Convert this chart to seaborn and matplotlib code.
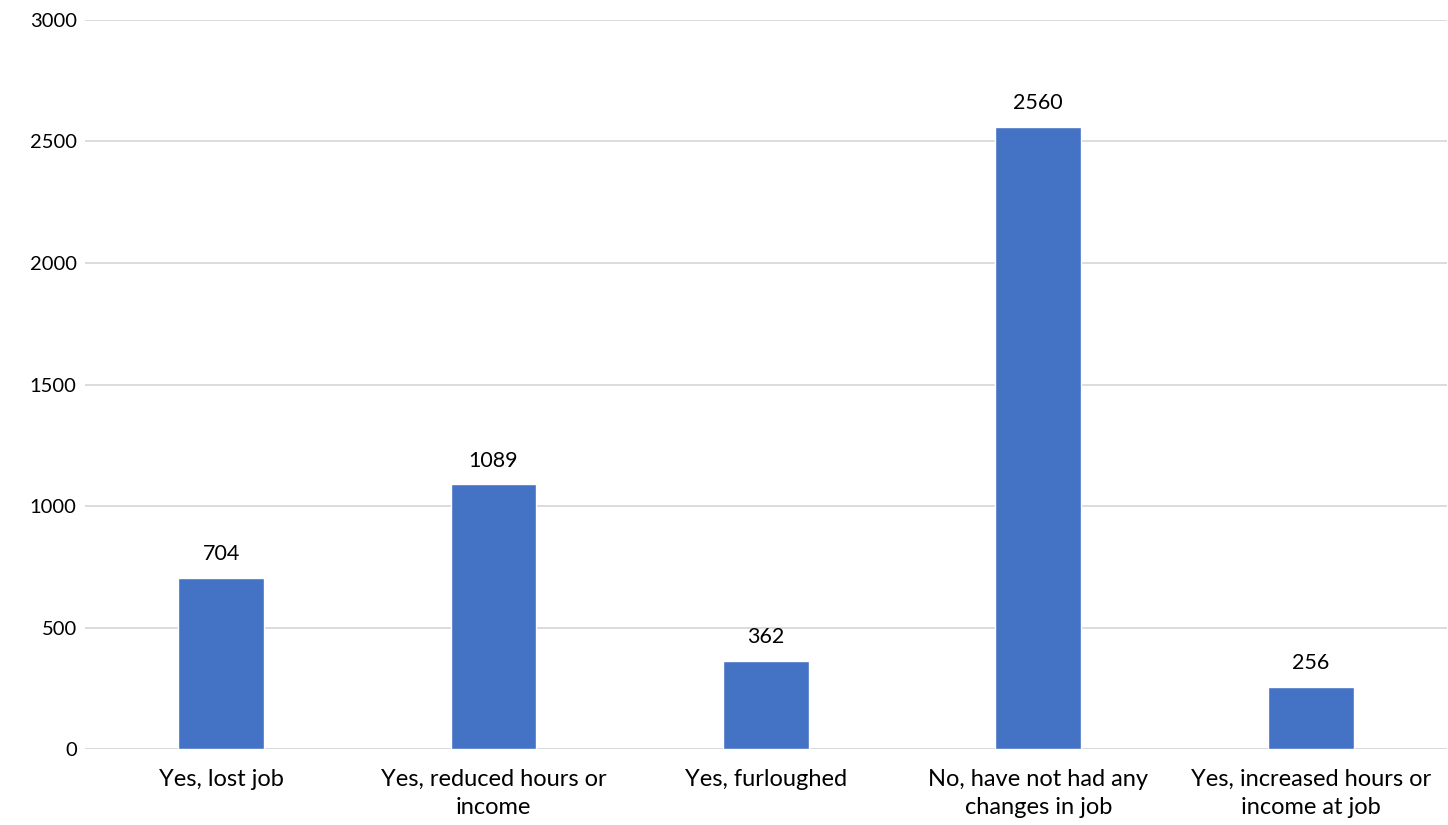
import matplotlib
matplotlib.use("Agg")
import matplotlib.pyplot as plt
import seaborn as sns
import pandas as pd

categories = [
    "Yes, lost job",
    "Yes, reduced hours or\nincome",
    "Yes, furloughed",
    "No, have not had any\nchanges in job",
    "Yes, increased hours or\nincome at job",
]
counts = [704, 1089, 362, 2560, 256]
y_ticks = [0, 500, 1000, 1500, 2000, 2500, 3000]

sns.set_theme(style="white")
plt.rcParams["font.family"] = ["Lato", "DejaVu Sans"]

df = pd.DataFrame({"category": categories, "count": counts})

fig = plt.figure(figsize=(14.48, 8.25), dpi=100)
ax = fig.add_axes([0.0587, 0.092, 0.9405, 0.8838])

sns.barplot(data=df, x="category", y="count", color="#4472C4",
            width=0.315, saturation=1, ax=ax, zorder=3)

ax.set_ylim(0, 3000)
ax.set_yticks(y_ticks)
ax.set_xlim(-0.5, len(categories) - 0.5)
ax.yaxis.grid(True, color="#D9D9D9", linewidth=1.3, zorder=0)
ax.set_axisbelow(True)
for side in ["top", "right", "left", "bottom"]:
    ax.spines[side].set_visible(False)
ax.axhline(0, color="#D9D9D9", linewidth=1.3, zorder=2)

ax.set_xlabel("")
ax.set_ylabel("")
ax.tick_params(axis="both", length=0, labelcolor="#000000")
ax.tick_params(axis="y", pad=6, labelsize=14.5)
ax.tick_params(axis="x", pad=14, labelsize=17)
for lbl in ax.get_xticklabels():
    lbl.set_linespacing(1.45)

for container in ax.containers:
    ax.bar_label(container, labels=[str(v) for v in counts],
                 padding=10, fontsize=15.5, color="#000000")

fig.savefig("out.png", dpi=100, facecolor="white")
